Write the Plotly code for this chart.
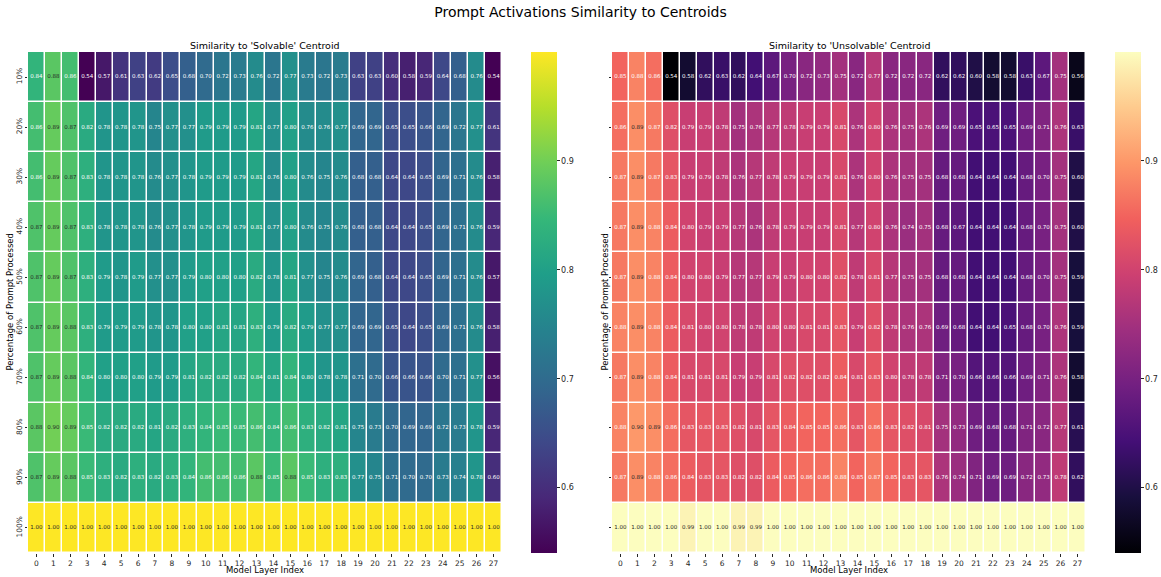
import plotly.graph_objects as go
from plotly.colors import sample_colorscale, sequential

layers = list(range(28))
pct_labels = ["10%", "20%", "30%", "40%", "50%", "60%", "70%", "80%", "90%", "100%"]

solvable = [
    [0.84, 0.88, 0.86, 0.54, 0.57, 0.61, 0.63, 0.62, 0.65, 0.68, 0.70, 0.72, 0.73, 0.76, 0.72, 0.77, 0.73, 0.72, 0.73, 0.63, 0.63, 0.60, 0.58, 0.59, 0.64, 0.68, 0.76, 0.54],
    [0.86, 0.89, 0.87, 0.82, 0.78, 0.78, 0.78, 0.75, 0.77, 0.77, 0.79, 0.79, 0.79, 0.81, 0.77, 0.80, 0.76, 0.76, 0.77, 0.69, 0.69, 0.65, 0.65, 0.66, 0.69, 0.72, 0.77, 0.61],
    [0.86, 0.89, 0.87, 0.83, 0.78, 0.78, 0.78, 0.76, 0.77, 0.78, 0.79, 0.79, 0.79, 0.81, 0.76, 0.80, 0.76, 0.75, 0.76, 0.68, 0.68, 0.64, 0.64, 0.65, 0.69, 0.71, 0.76, 0.58],
    [0.87, 0.89, 0.87, 0.83, 0.78, 0.78, 0.78, 0.76, 0.77, 0.78, 0.79, 0.79, 0.79, 0.81, 0.77, 0.80, 0.76, 0.75, 0.76, 0.68, 0.68, 0.64, 0.64, 0.65, 0.69, 0.71, 0.76, 0.59],
    [0.87, 0.89, 0.87, 0.83, 0.79, 0.78, 0.79, 0.77, 0.77, 0.79, 0.80, 0.80, 0.80, 0.82, 0.78, 0.81, 0.77, 0.75, 0.76, 0.69, 0.68, 0.64, 0.64, 0.65, 0.69, 0.71, 0.76, 0.57],
    [0.87, 0.89, 0.88, 0.83, 0.79, 0.79, 0.79, 0.78, 0.78, 0.80, 0.80, 0.81, 0.81, 0.83, 0.79, 0.82, 0.79, 0.77, 0.77, 0.69, 0.69, 0.65, 0.64, 0.65, 0.69, 0.71, 0.76, 0.58],
    [0.87, 0.89, 0.88, 0.84, 0.80, 0.80, 0.80, 0.79, 0.79, 0.81, 0.82, 0.82, 0.82, 0.84, 0.81, 0.84, 0.80, 0.78, 0.78, 0.71, 0.70, 0.66, 0.66, 0.66, 0.70, 0.71, 0.77, 0.56],
    [0.88, 0.90, 0.89, 0.85, 0.82, 0.82, 0.82, 0.81, 0.82, 0.83, 0.84, 0.85, 0.85, 0.86, 0.84, 0.86, 0.83, 0.82, 0.81, 0.75, 0.73, 0.70, 0.69, 0.69, 0.72, 0.73, 0.78, 0.59],
    [0.87, 0.89, 0.88, 0.85, 0.83, 0.82, 0.83, 0.82, 0.83, 0.84, 0.86, 0.86, 0.86, 0.88, 0.85, 0.88, 0.85, 0.83, 0.83, 0.77, 0.75, 0.71, 0.70, 0.70, 0.73, 0.74, 0.78, 0.60],
    [1.00] * 28,
]

unsolvable = [
    [0.85, 0.88, 0.86, 0.54, 0.58, 0.62, 0.63, 0.62, 0.64, 0.67, 0.70, 0.72, 0.73, 0.75, 0.72, 0.77, 0.72, 0.72, 0.72, 0.62, 0.62, 0.60, 0.58, 0.58, 0.63, 0.67, 0.75, 0.56],
    [0.86, 0.89, 0.87, 0.82, 0.79, 0.79, 0.78, 0.75, 0.76, 0.77, 0.78, 0.79, 0.79, 0.81, 0.76, 0.80, 0.76, 0.75, 0.76, 0.69, 0.69, 0.65, 0.65, 0.65, 0.69, 0.71, 0.76, 0.63],
    [0.87, 0.89, 0.87, 0.83, 0.79, 0.79, 0.78, 0.76, 0.77, 0.78, 0.79, 0.79, 0.79, 0.81, 0.76, 0.80, 0.76, 0.75, 0.75, 0.68, 0.68, 0.64, 0.64, 0.64, 0.68, 0.70, 0.75, 0.60],
    [0.87, 0.89, 0.88, 0.84, 0.80, 0.79, 0.79, 0.77, 0.76, 0.78, 0.79, 0.79, 0.79, 0.81, 0.77, 0.80, 0.76, 0.74, 0.75, 0.68, 0.67, 0.64, 0.64, 0.64, 0.68, 0.70, 0.75, 0.60],
    [0.87, 0.89, 0.88, 0.84, 0.80, 0.80, 0.79, 0.77, 0.77, 0.79, 0.79, 0.80, 0.80, 0.82, 0.78, 0.81, 0.77, 0.75, 0.75, 0.68, 0.68, 0.64, 0.64, 0.64, 0.68, 0.70, 0.75, 0.59],
    [0.88, 0.89, 0.88, 0.84, 0.81, 0.80, 0.80, 0.78, 0.78, 0.80, 0.80, 0.81, 0.81, 0.83, 0.79, 0.82, 0.78, 0.76, 0.76, 0.69, 0.68, 0.64, 0.64, 0.65, 0.68, 0.70, 0.76, 0.59],
    [0.87, 0.89, 0.88, 0.84, 0.81, 0.81, 0.81, 0.79, 0.79, 0.81, 0.82, 0.82, 0.82, 0.84, 0.81, 0.83, 0.80, 0.78, 0.78, 0.71, 0.70, 0.66, 0.66, 0.66, 0.69, 0.71, 0.76, 0.58],
    [0.88, 0.90, 0.89, 0.86, 0.83, 0.83, 0.83, 0.82, 0.81, 0.83, 0.84, 0.85, 0.85, 0.86, 0.83, 0.86, 0.83, 0.82, 0.81, 0.75, 0.73, 0.69, 0.68, 0.68, 0.71, 0.72, 0.77, 0.61],
    [0.87, 0.89, 0.88, 0.86, 0.84, 0.83, 0.83, 0.82, 0.82, 0.84, 0.85, 0.86, 0.86, 0.88, 0.85, 0.87, 0.85, 0.83, 0.83, 0.76, 0.74, 0.71, 0.69, 0.69, 0.72, 0.73, 0.78, 0.62],
    [1.00, 1.00, 1.00, 1.00, 0.99, 1.00, 1.00, 0.99, 0.99, 1.00, 1.00, 1.00, 1.00, 1.00, 1.00, 1.00, 1.00, 1.00, 1.00, 1.00, 1.00, 1.00, 1.00, 1.00, 1.00, 1.00, 1.00, 1.00],
]

VIRIDIS = sequential.Viridis
MAGMA = sequential.Magma
FONT = "DejaVu Sans"
W, H = 1161, 577


def px_x(p):
    return p / W


def px_y(p):
    return 1 - p / H


def text_colors(z, scale, zmin, zmax):
    cols = []
    for row in z:
        for v in row:
            t = (v - zmin) / (zmax - zmin)
            t = min(max(t, 0), 1)
            c = sample_colorscale(scale, [t])[0]
            if c.startswith("#"):
                rgb = [int(c[i:i + 2], 16) / 255 for i in (1, 3, 5)]
            else:
                rgb = [float(s) / 255 for s in c[c.index("(") + 1:c.index(")")].split(",")]
            lin = [x / 12.92 if x <= 0.03928 else ((x + 0.055) / 1.055) ** 2.4 for x in rgb]
            lum = 0.2126 * lin[0] + 0.7152 * lin[1] + 0.0722 * lin[2]
            cols.append("#262626" if lum > 0.408 else "#ffffff")
    return cols


fig = go.Figure()

panels = [
    (solvable, VIRIDIS, "x", "y", 28, 502, 531),
    (unsolvable, MAGMA, "x2", "y2", 612, 1086, 1115),
]
ytop, ybot = 52, 553

for z, scale, xa, ya, x0, x1, cbx in panels:
    zmin = min(min(r) for r in z)
    zmax = max(max(r) for r in z)
    fig.add_trace(go.Heatmap(
        z=z, x=layers, y=pct_labels, xaxis=xa, yaxis=ya,
        colorscale=scale, zmin=zmin, zmax=zmax, xgap=1.5, ygap=1.5,
        hoverinfo="skip",
        colorbar=dict(
            x=px_x(cbx), xanchor="left", xref="paper",
            y=px_y(ybot), yanchor="bottom", yref="paper",
            len=(ybot - ytop) / H, lenmode="fraction",
            thickness=26, outlinewidth=0, xpad=0, ypad=0,
            tickvals=[0.6, 0.7, 0.8, 0.9], ticktext=["0.6", "0.7", "0.8", "0.9"],
            ticks="outside", ticklen=3, tickcolor="#262626",
            tickfont=dict(family=FONT, size=8, color="#262626"),
        ),
    ))
    xs, ys, txt = [], [], []
    for i, row in enumerate(z):
        for j, v in enumerate(row):
            xs.append(layers[j])
            ys.append(pct_labels[i])
            txt.append(f"{v:.2f}")
    fig.add_trace(go.Scatter(
        x=xs, y=ys, xaxis=xa, yaxis=ya, mode="text", text=txt,
        textfont=dict(family=FONT, size=5.5, color=text_colors(z, scale, zmin, zmax)),
        hoverinfo="skip", showlegend=False,
    ))

axis_common = dict(showgrid=False, zeroline=False, showline=False, automargin=False,
                   ticks="outside", ticklen=2.5, tickcolor="#262626",
                   tickfont=dict(family=FONT, size=7.5, color="#262626"))

fig.update_layout(
    width=W, height=H,
    margin=dict(l=0, r=0, t=0, b=0, pad=0, autoexpand=False),
    paper_bgcolor="white", plot_bgcolor="white",
    showlegend=False,
    xaxis=dict(domain=[px_x(28), px_x(502)], anchor="y", range=[-0.5, 27.5],
               tickvals=layers, ticktext=[str(v) for v in layers], **axis_common),
    yaxis=dict(domain=[px_y(ybot), px_y(ytop)], anchor="x", autorange="reversed",
               type="category", tickangle=-90, **axis_common),
    xaxis2=dict(domain=[px_x(612), px_x(1086)], anchor="y2", range=[-0.5, 27.5],
                tickvals=layers, ticktext=[str(v) for v in layers], **axis_common),
    yaxis2=dict(domain=[px_y(ybot), px_y(ytop)], anchor="x2", autorange="reversed",
                type="category", showticklabels=False, **axis_common),
    title=dict(text="Prompt Activations Similarity to Centroids", x=0.5, xanchor="center",
               xref="paper", yref="paper", automargin=False,
               y=px_y(12), yanchor="middle",
               font=dict(family=FONT, size=14, color="black")),
)

annots = [
    dict(text="Similarity to 'Solvable' Centroid", x=px_x((28 + 502) / 2), y=px_y(46), size=9.5, angle=0),
    dict(text="Similarity to 'Unsolvable' Centroid", x=px_x((612 + 1086) / 2), y=px_y(46), size=9.5, angle=0),
    dict(text="Model Layer Index", x=px_x((28 + 502) / 2), y=px_y(570), size=8.5, angle=0),
    dict(text="Model Layer Index", x=px_x((612 + 1086) / 2), y=px_y(570), size=8.5, angle=0),
    dict(text="Percentage of Prompt Processed", x=px_x(9), y=px_y((ytop + ybot) / 2), size=8.5, angle=-90),
    dict(text="Percentage of Prompt Processed", x=px_x(604), y=px_y((ytop + ybot) / 2), size=8.5, angle=-90),
]
for a in annots:
    fig.add_annotation(text=a["text"], x=a["x"], y=a["y"], xref="paper", yref="paper",
                       xanchor="center", yanchor="middle", showarrow=False, textangle=a["angle"],
                       font=dict(family=FONT, size=a["size"], color="black"))

fig.write_html(
    "out.html",
    config={"displayModeBar": False},
    post_script="document.body.style.margin='0';document.body.style.overflow='hidden';",
)
